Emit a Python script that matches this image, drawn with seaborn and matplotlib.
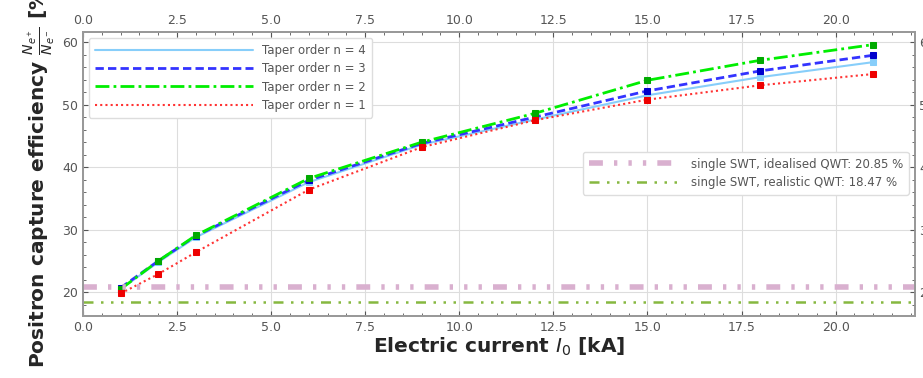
import matplotlib
matplotlib.use("Agg")
import matplotlib.pyplot as plt
from matplotlib.ticker import AutoMinorLocator
from matplotlib.lines import Line2D
import seaborn as sns
import pandas as pd

current_kA = [1, 2, 3, 6, 9, 12, 15, 18, 21]
eff_n4 = [20.5, 24.8, 28.8, 37.6, 43.6, 47.6, 51.5, 54.4, 56.8]
eff_n3 = [20.7, 25.0, 29.0, 37.9, 43.8, 48.0, 52.2, 55.4, 57.9]
eff_n2 = [20.5, 25.0, 29.1, 38.2, 44.0, 48.6, 53.9, 57.1, 59.6]
eff_n1 = [19.8, 22.9, 26.4, 36.4, 43.2, 47.5, 50.8, 53.1, 54.9]
series_labels = ["Taper order n = 4", "Taper order n = 3", "Taper order n = 2", "Taper order n = 1"]
ref_values = [20.85, 18.47]
ref_labels = ["single SWT, idealised QWT: 20.85 %", "single SWT, realistic QWT: 18.47 %"]
xtick_labels = ["0.0", "2.5", "5.0", "7.5", "10.0", "12.5", "15.0", "17.5", "20.0"]

sns.set_style("ticks")
plt.rcParams['font.family'] = ['DejaVu Sans']

fig = plt.figure(figsize=(9.23, 3.78), dpi=100)
ax = fig.add_axes([0.0899, 0.164, 0.901, 0.751])

styles = [
    dict(color="#87cefa", ls="-", lw=1.5, mfc="#87cefa"),
    dict(color="#3333ff", ls=(0, (3, 1.5)), lw=2.0, mfc="#0000cc"),
    dict(color="#00ee00", ls=(0, (5, 1.5, 1, 1.5)), lw=2.0, mfc="#00aa00"),
    dict(color="#ff3333", ls=(0, (1, 1.5)), lw=1.5, mfc="#ee0000"),
]
all_vals = [eff_n4, eff_n3, eff_n2, eff_n1]
proxies = []
for vals, lab, st in zip(all_vals, series_labels, styles):
    df = pd.DataFrame({"I": current_kA, "eff": vals})
    sns.lineplot(data=df, x="I", y="eff", ax=ax, color=st["color"], linestyle=st["ls"],
                 linewidth=st["lw"], marker="s", markersize=4.5,
                 markerfacecolor=st["mfc"], markeredgecolor=st["mfc"], legend=False)
    proxies.append(Line2D([], [], color=st["color"], ls=st["ls"], lw=st["lw"]))

h1 = ax.axhline(ref_values[0], color="#d9b0cf", lw=4, ls=(0, (2.5, 2, 0.6, 2, 0.6, 2, 0.6, 2)))
h2 = ax.axhline(ref_values[1], color="#86b840", lw=1.8, ls=(0, (4, 3, 1, 3, 1, 3, 1, 3)))

ax.set_xlim(0, 22.1)
ax.set_ylim(16.2, 61.6)
ax.set_xticks([0, 2.5, 5, 7.5, 10, 12.5, 15, 17.5, 20])
ax.set_xticklabels(xtick_labels)
ax.set_yticks([20, 30, 40, 50, 60])
ax.xaxis.set_minor_locator(AutoMinorLocator(5))
ax.yaxis.set_minor_locator(AutoMinorLocator(5))
ax.grid(True, color="#dddddd", lw=0.8)
ax.tick_params(which="both", direction="in", colors="#555555", labelsize=9, labelcolor="#555555")
ax.tick_params(which="minor", length=2)
for s in ax.spines.values():
    s.set_color("#999999")
    s.set_linewidth(1.2)

ax.set_xlabel("Electric current $I_0$ [kA]", fontsize=14.5, fontweight="bold", labelpad=1)
ax.set_ylabel(r"Positron capture efficiency $\frac{N_{e^+}}{N_{e^-}}$ [%]", fontsize=14.5,
              fontweight="bold", labelpad=4)

axt = ax.twiny()
axt.set_xlim(ax.get_xlim())
axt.set_xticks(ax.get_xticks())
axt.set_xticklabels(xtick_labels)
axt.xaxis.set_minor_locator(AutoMinorLocator(5))
axt.tick_params(which="both", direction="in", colors="#555555", labelsize=9, labelcolor="#555555")
axt.tick_params(which="minor", length=2)
axr = ax.twinx()
axr.set_ylim(ax.get_ylim())
axr.set_yticks([20, 30, 40, 50, 60])
axr.yaxis.set_minor_locator(AutoMinorLocator(5))
axr.tick_params(which="both", direction="in", colors="#555555", labelsize=9, labelcolor="#555555")
axr.tick_params(which="minor", length=2)
for a in (axt, axr):
    for s in a.spines.values():
        s.set_color("#999999")
        s.set_linewidth(1.2)

leg1 = ax.legend(proxies, series_labels, loc="upper left", fontsize=8.5, handlelength=13.4,
                 frameon=True, framealpha=1, edgecolor="#dddddd", labelcolor="#555555",
                 borderpad=0.5, labelspacing=0.45)
ax.add_artist(leg1)
ax.legend([h1, h2], ref_labels, loc="center right", bbox_to_anchor=(1.0, 0.503), fontsize=8.5,
          handlelength=7.8, frameon=True, framealpha=1, edgecolor="#dddddd",
          labelcolor="#555555", borderpad=0.5, labelspacing=0.45)

fig.savefig("out.png", dpi=100)
